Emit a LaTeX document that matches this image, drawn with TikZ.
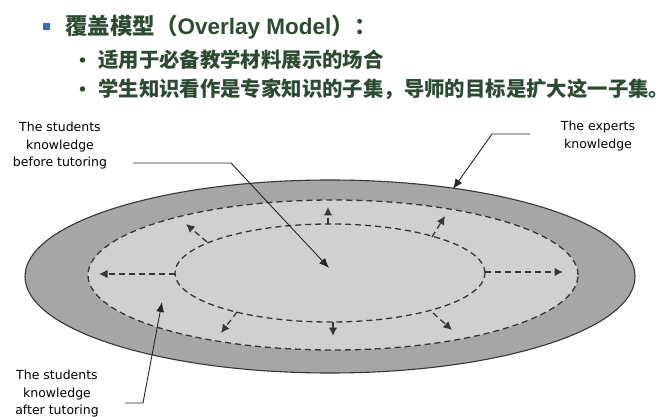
\documentclass[tikz,border=0pt]{standalone}
\usepackage{fontspec}
\setmainfont{Liberation Sans}
\newfontfamily\cjk{Noto Sans CJK SC}
\newfontfamily\labfont{DejaVu Sans}
\usetikzlibrary{shapes.geometric,arrows.meta}
\definecolor{txt}{RGB}{45,75,50}
\definecolor{bulletblue}{RGB}{50,110,190}
\definecolor{ringgray}{RGB}{166,166,166}
\definecolor{disk}{RGB}{208,208,208}
\definecolor{edge}{RGB}{55,55,55}
\begin{document}
\begin{tikzpicture}[x=1pt,y=-1pt,
  leader/.style={draw=black!85, line width=0.9pt, -{Latex[length=10pt,width=8pt]}},
  growarrow/.style={draw=edge, line width=1.3pt, dash pattern=on 6pt off 4pt, -{Latex[length=8.5pt,width=8.5pt]}},
  lab/.style={align=center, font=\labfont\fontsize{12.5}{17.5}\selectfont, inner sep=0pt},
  ellnode/.style={ellipse, inner sep=0pt, outer sep=0pt},
  dashring/.style={draw=edge, line width=1.3pt, dash pattern=on 6pt off 4pt},
  headline/.style={anchor=base west, inner sep=0pt, text=txt},
  dotbullet/.style={circle, fill=txt, minimum size=5.5pt, inner sep=0pt}
]
\useasboundingbox (0,0) rectangle (670,417);
\fill[white] (0,0) rectangle (670,417);

% header
\node[fill=bulletblue, minimum size=7pt, inner sep=0pt] (sq) at (46.5,26.5) {};
\node[headline, font=\fontsize{22.5}{22.5}\selectfont\bfseries] (h1) at (65,34.5)
  {{\cjk 覆盖模型（}Overlay Model{\cjk ）：}};
\node[dotbullet] (d2) at (82.5,60) {};
\node[headline, font=\fontsize{20.4}{20.4}\selectfont\bfseries\cjk] (l2) at (98,67.8)
  {适用于必备教学材料展示的场合};
\node[dotbullet] (d3) at (82.5,89) {};
\node[headline, font=\fontsize{20.4}{20.4}\selectfont\bfseries\cjk] (l3) at (98,96.8)
  {学生知识看作是专家知识的子集，导师的目标是扩大这一子集。};

% ellipses
\node[ellnode, draw=edge, line width=1.1pt, fill=ringgray, minimum width=610pt, minimum height=193pt] (outer) at (330,276.5) {};
\node[ellnode, dashring, fill=disk, minimum width=490pt, minimum height=150pt] (middle) at (333,275) {};
\node[ellnode, dashring, fill=disk, minimum width=310pt, minimum height=98pt] (inner) at (330,273) {};

% growth arrows
\coordinate (g1s) at (175,274); \coordinate (g1e) at (99,274);
\coordinate (g2s) at (485,272); \coordinate (g2e) at (563,272);
\coordinate (g3s) at (328,224); \coordinate (g3e) at (328,207);
\coordinate (g4s) at (333,322); \coordinate (g4e) at (333,336);
\coordinate (g5s) at (207,242); \coordinate (g5e) at (186,224);
\coordinate (g6s) at (432,237); \coordinate (g6e) at (445,216);
\coordinate (g7s) at (237,312); \coordinate (g7e) at (221,333);
\coordinate (g8s) at (433,313); \coordinate (g8e) at (452,330);
\foreach \i in {1,...,8} { \draw[growarrow] (g\i s) -- (g\i e); }

% labels
\node[lab] (before) at (60,146) {The students\\knowledge\\before tutoring};
\node[lab] (experts) at (598,136) {The experts\\knowledge};
\node[lab] (after) at (57,394) {The students\\knowledge\\after tutoring};

% leaders
\coordinate (b1) at (133,163); \coordinate (b2) at (231,163); \coordinate (b3) at (329,268);
\draw[leader] (b1) -- (b2) -- (b3);
\coordinate (e1) at (530,134); \coordinate (e2) at (492,134); \coordinate (e3) at (453,189);
\draw[leader] (e1) -- (e2) -- (e3);
\coordinate (a1) at (125,403); \coordinate (a2) at (143,403); \coordinate (a3) at (162,302);
\draw[leader] (a1) -- (a2) -- (a3);
\end{tikzpicture}
\end{document}
